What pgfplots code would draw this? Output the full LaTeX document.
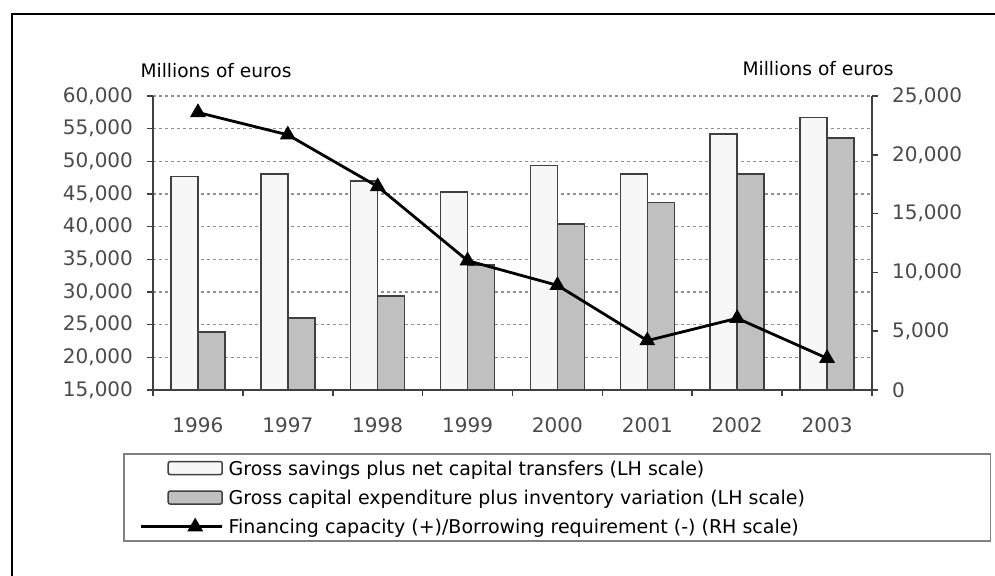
\documentclass[border=0pt]{standalone}
\usepackage{fontspec}
\setmainfont{DejaVu Sans}
\usepackage{pgfplots}
\pgfplotsset{compat=1.18}

\definecolor{axisgray}{HTML}{404040}
\definecolor{bargray}{HTML}{C0C0C0}
\definecolor{ticktext}{HTML}{4A4A4A}
\definecolor{gridgray}{HTML}{909090}

% one px of the reference = 0.5pt
\pgfplotsset{
  common/.style={
    width=359.5pt, height=147pt, scale only axis,
    at={(76.5pt,-48pt)}, anchor=north west,
    xmin=-0.5, xmax=7.5,
    axis line style={axisgray, line width=0.8pt},
    tick style={axisgray, line width=0.8pt},
    tick align=outside,
    major tick length=3pt, minor tick length=3pt,
    /pgf/number format/assume math mode=true,
    /pgf/number format/1000 sep={,},
    scaled y ticks=false,
    yticklabel style={font=\fontsize{10}{12}\selectfont, text=ticktext},
  },
  barlegend/.style={legend image code/.code={%
    \draw[##1, rounded corners=1pt] (0pt,-3.25pt) rectangle (27pt,3.25pt);}},
  linelegend/.style={legend image code/.code={%
    \draw[mark repeat=2, mark phase=2, ##1] plot coordinates {(0pt,0pt) (13.5pt,0pt) (27pt,0pt)};}},
}

\begin{document}
\begin{tikzpicture}
\useasboundingbox (0,0) rectangle (497.5pt,-287.5pt);
\draw[line width=1.3pt] (6pt,-290pt) -- (6pt,-7pt) -- (500pt,-7pt);

\begin{axis}[common,
  axis x line*=bottom, axis y line*=left,
  ymin=15000, ymax=60000, ytick={15000,20000,...,60000},
  ymajorgrids,
  major grid style={gridgray, line width=0.6pt, dash pattern=on 1.4pt off 1.6pt},
  xtick={0,...,7},
  xticklabels={1996,1997,1998,1999,2000,2001,2002,2003},
  minor xtick={-0.5,0.5,...,7.5},
  major x tick style={draw=none},
  xticklabel style={font=\fontsize{10}{12}\selectfont, text=ticktext, yshift=-7.5pt},
  yticklabel style={xshift=-3.5pt},
  ybar=0pt, bar width=13.5pt,
  legend cell align=left,
  legend style={at={(-0.0417,-0.2143)}, anchor=north west,
    draw=black!50, line width=0.8pt,
    inner xsep=8pt, inner ysep=3.5pt,
    font=\fontsize{9.5}{11}\selectfont,
    nodes={inner sep=0pt, text height=7pt, text depth=0pt},
    row sep=7.5pt,
    /tikz/every odd column/.append style={column sep=2.5pt}},
]
\addplot[fill=white!97!black, draw=axisgray, line width=0.75pt, barlegend]
  coordinates {(0,47700) (1,48100) (2,47000) (3,45300) (4,49400) (5,48100) (6,54200) (7,56700)};
\addlegendentry{\makebox[373pt][l]{Gross savings plus net capital transfers (LH scale)}}
\addplot[fill=bargray, draw=axisgray, line width=0.75pt, barlegend]
  coordinates {(0,23900) (1,26000) (2,29400) (3,34100) (4,40400) (5,43700) (6,48100) (7,53600)};
\addlegendentry{Gross capital expenditure plus inventory variation (LH scale)}
\addlegendimage{black, line width=1.4pt, mark=triangle*, mark size=3.2pt, linelegend}
\addlegendentry{Financing capacity (+)/Borrowing requirement (-) (RH scale)}
\end{axis}

\begin{axis}[common,
  axis y line*=right, axis x line=none,
  ymin=0, ymax=25000, ytick={0,5000,...,25000},
  yticklabel style={xshift=3.5pt},
]
\addplot[black, line width=1.4pt, mark=triangle*, mark size=3.2pt]
  coordinates {(0,23600) (1,21700) (2,17300) (3,11000) (4,8900) (5,4200) (6,6100) (7,2700)};
\end{axis}

\node[font=\fontsize{9.3}{11}\selectfont] at (108pt,-35.5pt) {Millions of euros};
\node[font=\fontsize{9.3}{11}\selectfont] at (409pt,-34.5pt) {Millions of euros};
\end{tikzpicture}
\end{document}
